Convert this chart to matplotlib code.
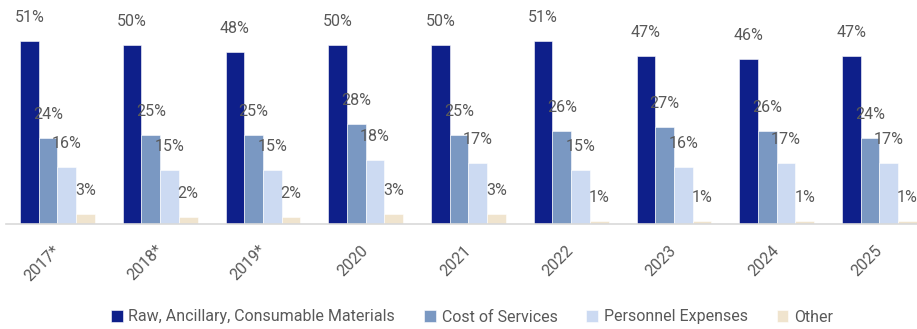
import matplotlib
matplotlib.use("Agg")
import matplotlib.pyplot as plt
import numpy as np

years = ["2017*", "2018*", "2019*", "2020", "2021", "2022", "2023", "2024", "2025"]
series_names = ["Raw, Ancillary, Consumable Materials", "Cost of Services",
                "Personnel Expenses", "Other"]
raw_materials = [51, 50, 48, 50, 50, 51, 47, 46, 47]
cost_services = [24, 25, 25, 28, 25, 26, 27, 26, 24]
personnel = [16, 15, 15, 18, 17, 15, 16, 17, 17]
other = [3, 2, 2, 3, 3, 1, 1, 1, 1]
colors = ["#0E1F8A", "#7A98C2", "#CCDAF2", "#F0E4CE"]

plt.rcParams['font.family'] = ['Roboto', 'DejaVu Sans']
text_color = "#595959"
fs = 11.5

W, H = 917, 329
fig = plt.figure(figsize=(W / 100, H / 100), dpi=100)
ax = fig.add_axes([6 / W, (H - 224.3) / H, 1 - 6 / W, 215.4 / H])

x = np.arange(len(years))
bw = 0.182
all_series = [raw_materials, cost_services, personnel, other]
for k, (vals, name, c) in enumerate(zip(all_series, series_names, colors)):
    pos = x + (k - 1.5) * bw
    ax.bar(pos, vals, width=bw, color=c, edgecolor="white", linewidth=0.4, label=name)
    for xi, v in zip(pos, vals):
        ax.annotate(f"{v}%", (xi, v), xytext=(0, 16.9), textcoords="offset points",
                    ha="center", va="center", fontsize=fs, color=text_color,
                    annotation_clip=False)

ax.set_xlim(-0.5, 8.365)
ax.set_ylim(0, 60)
ax.set_yticks([])
ax.set_xticks(x)
ax.set_xticklabels(years, rotation=45, ha="right", va="center", rotation_mode="anchor",
                   fontsize=fs, color=text_color)
ax.tick_params(axis="x", length=0, pad=17)
for s in ["top", "right", "left"]:
    ax.spines[s].set_visible(False)
ax.spines["bottom"].set_color("#D9D9D9")
ax.spines["bottom"].set_linewidth(1.2)

fig.legend(loc="center", bbox_to_anchor=(472 / W, (H - 317) / H), ncol=4, frameon=False,
           fontsize=fs, handlelength=0.75, handleheight=0.75, handletextpad=0.35,
           columnspacing=1.8, labelcolor=text_color)

fig.savefig("out.png", dpi=100)
